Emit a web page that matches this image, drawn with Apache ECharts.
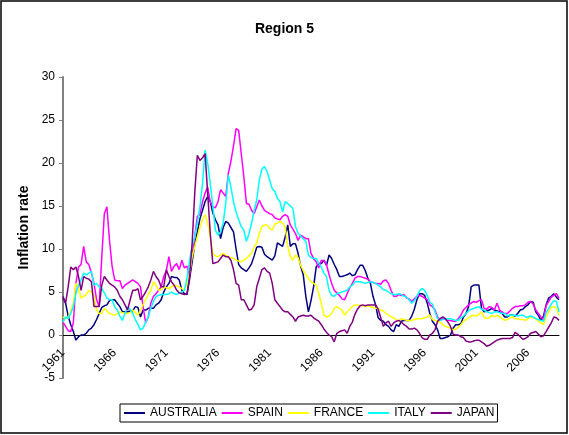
<!DOCTYPE html>
<html>
<head>
<meta charset="utf-8">
<script src="https://cdn.jsdelivr.net/npm/echarts@6/dist/echarts.min.js"></script>
<style>
html,body{margin:0;padding:0;background:#fff;}
#c{width:569px;height:435px;}
</style>
</head>
<body>
<div id="c"></div>
<script>
// Quarterly categories 1961Q1 .. 2009Q1
const startYear = 1961;
const nPoints = 193;
const categories = [];
for (let i = 0; i < nPoints; i++) {
  categories.push((startYear + Math.floor(i / 4)) + ' Q' + (i % 4 + 1));
}
const seriesNames = ['AUSTRALIA', 'SPAIN', 'FRANCE', 'ITALY', 'JAPAN'];
const yTicks = { min: -5, max: 30, interval: 5 };

const australia = [
  4.3, 3.7, 2.2, 1.2,  0.4, -0.6, -0.2, 0.0,  0.0, 0.2, 0.6, 0.8,  1.2, 1.8, 2.5, 3.2,
  3.4, 3.5, 4.0, 4.1,  4.1, 3.7, 3.3, 2.7,  2.7, 2.7, 2.8, 2.8,  3.3, 3.2, 2.1, 2.9,
  2.9, 3.1, 3.1, 3.1,  3.5, 3.7, 4.1, 5.0,  5.6, 6.0, 6.8, 6.7,  6.7, 6.4, 5.2, 4.8,
  4.7, 6.5, 8.5, 10.5,  12.0, 13.5, 14.5, 15.5,  16.1, 15.5, 14.2, 13.4,  12.8, 11.2, 12.5, 13.2,
  13.0, 12.5, 12.0, 10.0,  8.2, 7.8, 7.6, 7.4,  7.8, 8.3, 9.2, 10.2,  10.3, 10.2, 9.4, 9.1,
  8.9, 8.7, 9.2, 10.7,  10.5, 10.3, 11.4, 12.8,  10.3, 10.6, 10.6, 9.5,  8.0, 7.0, 4.5, 2.7,
  4.0, 5.6, 7.9, 8.3,  8.3, 8.7, 8.1, 9.3,  8.9, 8.2, 7.6, 6.8,  6.8, 6.9, 7.0, 7.2,
  6.9, 7.0, 7.6, 8.1,  8.1, 7.5, 6.6, 6.0,  4.5, 3.5, 2.0, 1.7,  1.6, 1.2, 1.0, 0.6,
  0.4, 1.2, 1.0, 1.6,  1.7, 1.7, 1.7, 2.2,  3.0, 4.1, 4.8, 4.8,  4.6, 3.7, 2.5, 1.6,
  1.2, 0.6, -0.4, -0.4,  -0.3, -0.2, 0.0, 0.8,  1.2, 1.2, 1.3, 2.1,  2.5, 3.3, 5.6, 5.8,
  5.8, 5.8, 3.1, 2.7,  2.8, 2.9, 3.1, 2.9,  2.8, 2.7, 2.5, 2.1,  2.1, 2.3, 2.3, 2.2,
  2.5, 2.9, 3.0, 3.3,  3.5, 3.9, 3.8, 2.7,  2.3, 1.7, 2.2, 3.5,  4.3, 4.5, 4.8, 4.4,
  4.1
];
const spain = [
  1.5, 1.0, 0.5, 0.4,  1.4, 6.0, 7.9, 8.2,  10.3, 8.5, 8.2, 7.2,  6.0, 4.1, 3.3, 9.0,
  14.1, 14.9, 11.0, 8.0,  6.4, 6.3, 6.3, 5.4,  5.8, 6.0, 6.2, 6.4,  6.2, 6.0, 5.6, 3.3,
  1.4, 2.1, 3.7, 4.5,  4.8, 5.2, 5.6, 6.8,  7.5, 9.1, 7.4, 8.0,  8.3, 7.6, 8.7, 7.8,
  8.0, 6.8, 9.5, 11.4,  13.8, 14.0, 15.5, 16.5,  17.2, 15.5, 14.9, 14.8,  15.5, 16.9, 16.5, 16.1,
  18.8, 20.2, 22.0, 24.0,  23.8, 21.1, 18.4, 15.3,  15.2, 14.5, 14.1, 14.9,  15.7, 15.0, 14.5, 14.3,
  14.1, 14.0, 13.6, 13.5,  13.4, 13.8, 14.0, 13.8,  12.8, 12.3, 11.8, 11.0,  11.6, 11.4, 11.2, 11.2,
  9.5, 8.9, 8.5, 7.8,  8.7, 8.6, 8.2, 7.0,  6.0, 5.2, 4.9, 4.6,  4.2, 4.1, 4.8, 5.5,
  6.0, 6.6, 6.8, 6.8,  6.7, 6.6, 6.5, 6.2,  6.1, 6.0, 6.0, 5.9,  6.3, 6.4, 6.0, 5.2,
  4.5, 4.5, 4.7, 4.6,  4.7, 4.3, 4.2, 3.9,  4.2, 4.5, 4.6, 4.5,  4.3, 4.1, 3.5, 3.3,
  2.9, 2.1, 1.7, 1.9,  1.8, 1.7, 1.7, 1.6,  1.6, 1.9, 2.3, 2.9,  3.2, 3.5, 3.7, 3.9,
  3.8, 4.0, 4.1, 3.1,  3.0, 3.3, 3.2, 2.9,  3.7, 2.9, 2.7, 2.5,  2.5, 2.8, 3.1, 3.3,
  3.3, 3.4, 3.4, 3.5,  3.8, 3.9, 3.6, 2.9,  2.5, 2.1, 1.8, 3.4,  3.9, 4.4, 4.6, 4.8,
  4.3
];
const france = [
  2.1, 1.9, 2.0, 2.8,  3.7, 6.0, 5.4, 4.3,  4.5, 4.7, 5.2, 5.0,  4.5, 2.9, 2.5, 2.5,
  3.1, 2.8, 2.5, 2.4,  2.3, 2.5, 2.7, 2.6,  2.5, 2.5, 2.6, 2.9,  2.6, 2.3, 2.9, 3.5,
  4.1, 4.7, 5.2, 6.2,  5.8, 5.2, 5.3, 5.6,  5.5, 5.4, 5.6, 5.8,  5.7, 5.6, 5.4, 5.2,
  6.0, 7.2, 9.1, 10.3,  11.4, 12.5, 13.4, 14.0,  13.0, 11.4, 9.5, 9.2,  9.1, 9.3, 9.5, 9.3,
  9.1, 9.0, 8.9, 8.7,  8.6, 8.5, 8.7, 8.9,  9.2, 9.5, 10.2, 10.7,  11.8, 12.6, 12.8, 12.8,
  12.4, 12.2, 12.9, 13.0,  13.2, 13.0, 12.6, 10.3,  9.1, 8.7, 9.3, 9.0,  8.1, 7.5, 7.0, 6.6,
  6.2, 6.0, 5.8, 4.8,  3.7, 2.3, 2.1, 2.2,  2.5, 3.1, 3.3, 3.1,  2.9, 2.3, 2.7, 3.0,
  3.3, 3.5, 3.5, 3.4,  3.4, 3.3, 3.4, 3.3,  3.2, 3.1, 3.1, 2.9,  2.8, 2.5, 2.3, 2.1,
  2.0, 1.8, 1.6, 1.9,  1.8, 1.7, 1.7, 1.7,  1.8, 1.9, 1.9, 1.9,  2.0, 2.1, 2.3, 1.8,
  1.7, 1.6, 1.5, 1.2,  1.0, 0.9, 0.8, 0.6,  0.7, 0.9, 1.2, 1.6,  1.8, 2.0, 2.2, 2.3,
  2.2, 2.4, 2.7, 2.1,  1.9, 2.0, 2.3, 2.1,  2.3, 2.1, 1.9, 1.7,  1.8, 2.0, 2.1, 1.9,
  1.9, 1.8, 1.8, 1.7,  1.9, 2.1, 2.0, 1.9,  1.6, 1.4, 1.2, 2.1,  2.7, 3.2, 3.3, 3.1,
  2.3
];
const italy = [
  1.5, 2.1, 1.9, 2.5,  3.3, 4.8, 5.8, 6.4,  7.2, 7.0, 7.2, 7.4,  5.8, 6.0, 5.6, 5.4,
  4.9, 4.3, 4.1, 4.1,  3.3, 2.9, 2.2, 1.7,  2.5, 3.3, 3.0, 2.5,  1.8, 1.2, 0.6, 0.8,
  1.5, 2.1, 3.1, 3.9,  4.5, 4.6, 4.7, 4.7,  4.7, 4.8, 5.0, 4.8,  4.7, 4.9, 5.0, 5.2,
  6.6, 8.7, 10.4, 11.4,  13.0, 14.9, 17.5, 21.5,  20.0, 17.6, 15.0, 12.2,  11.6, 12.0, 13.0, 15.3,
  18.6, 17.2, 15.5, 14.3,  13.4, 12.6, 12.2, 10.9,  11.8, 13.0, 14.5, 15.7,  18.0, 19.3, 19.6, 19.0,
  18.0, 17.0, 16.7, 15.9,  15.5, 14.3, 15.5, 15.3,  15.0, 14.7, 12.6, 11.8,  11.5, 11.2, 10.9, 9.3,
  9.0, 8.9, 8.9, 8.3,  7.9, 7.2, 6.8, 5.2,  4.6, 4.5, 4.8, 4.9,  5.0, 5.1, 5.2, 5.6,
  5.8, 6.2, 6.2, 6.2,  6.1, 6.0, 6.1, 6.2,  6.1, 6.0, 5.8, 5.6,  5.3, 5.2, 5.0, 4.8,
  4.7, 4.7, 4.8, 4.7,  4.5, 4.4, 4.1, 3.7,  4.0, 4.5, 5.1, 5.4,  5.2, 4.6, 3.8, 3.6,
  2.7, 1.9, 1.7, 1.8,  1.9, 1.9, 1.9, 1.8,  1.7, 1.7, 2.0, 2.2,  2.5, 2.8, 3.0, 3.1,
  3.2, 3.3, 3.0, 2.9,  2.7, 2.6, 2.5, 2.7,  2.7, 2.6, 2.5, 2.5,  2.2, 2.3, 2.3, 2.3,
  2.2, 2.3, 2.3, 2.1,  2.1, 2.2, 2.1, 1.9,  1.8, 1.7, 1.6, 2.6,  3.1, 3.6, 4.0, 3.9,
  2.7
];
const japan = [
  4.5, 3.7, 5.6, 7.9,  7.6, 7.9, 6.8, 5.2,  6.8, 6.6, 6.5, 6.2,  3.3, 3.3, 3.3, 5.8,
  6.8, 6.4, 6.0, 5.8,  5.6, 5.2, 4.5, 4.1,  3.5, 2.9, 4.1, 5.2,  5.2, 5.4, 4.1, 4.5,
  5.0, 5.6, 6.4, 7.4,  6.8, 6.4, 5.6, 5.6,  7.6, 6.8, 6.2, 5.8,  5.2, 4.9, 4.8, 4.7,
  4.8, 6.8, 10.7, 16.5,  20.9, 20.3, 20.6, 21.1,  16.5, 11.8, 8.3, 8.4,  8.5, 8.9, 9.3, 9.1,
  9.1, 8.7, 7.6, 6.0,  5.8, 4.1, 4.1, 3.5,  2.9, 3.0, 3.5, 5.6,  6.6, 7.6, 7.8, 7.4,
  7.2, 6.0, 4.1, 3.7,  3.3, 2.9, 2.7, 2.7,  2.4, 2.1, 1.6, 2.1,  2.2, 2.3, 2.2, 2.2,
  2.3, 2.0, 1.8, 1.6,  1.2, 0.7, 0.3, 0.0,  -0.2, -0.8, 0.2, 0.4,  0.5, 0.6, 0.2, 1.0,
  1.5, 2.4, 3.0, 3.4,  3.5, 3.4, 3.5, 3.5,  3.5, 3.5, 3.0, 2.0,  1.0, 1.4, 1.6, 1.0,
  1.4, 1.6, 1.7, 1.5,  1.2, 1.0, 0.7, 0.7,  0.8, 0.6, 0.2, -0.3,  -0.5, -0.5, 0.0, 0.2,
  0.6, 1.6, 1.9, 2.1,  1.9, 1.5, 1.0, 0.1,  0.0, 0.0, -0.2, -0.3,  -0.7, -0.8, -0.8, -0.7,
  -0.6, -0.6, -0.8, -1.0,  -1.3, -1.2, -1.0, -0.8,  -0.6, -0.5, -0.4, -0.4,  -0.4, -0.4, -0.3, 0.3,
  0.1, -0.2, -0.5, -0.4,  -0.2, 0.2, 0.3, 0.4,  0.1, -0.2, -0.1, 0.4,  0.9, 1.4, 2.1, 2.0,
  1.7
];
const seriesData = [australia, spain, france, italy, japan];
const seriesColors = ['#000080', '#FF00FF', '#FFFF00', '#00FFFF', '#800080'];

const chart = echarts.init(document.getElementById('c'), null, { renderer: 'canvas' });
const font = 'Arial, "Liberation Sans", sans-serif';
const labelStyle = {
  interval: 19,
  rotate: 45,
  margin: 16,
  fontFamily: font,
  fontSize: 12,
  color: '#000',
  formatter: v => v.slice(0, 4)
};
chart.setOption({
  animation: false,
  backgroundColor: '#ffffff',
  title: {
    text: 'Region 5',
    left: 'center',
    top: 17,
    textStyle: { fontFamily: font, fontSize: 14, fontWeight: 'bold', color: '#000' }
  },
  graphic: [{
    type: 'rect',
    shape: { x: 1, y: 1, width: 566, height: 432 },
    style: { fill: 'none', stroke: '#000', lineWidth: 1.5 },
    silent: true,
    z: 100
  }],
  legend: {
    data: seriesNames,
    left: 120,
    top: 404,
    orient: 'horizontal',
    icon: 'rect',
    itemWidth: 21,
    itemHeight: 2,
    itemGap: 5,
    padding: [3, 3, 3, 4],
    borderColor: '#000',
    borderWidth: 1,
    textStyle: { fontFamily: font, fontSize: 12, color: '#000' }
  },
  grid: { left: 63, right: 10, top: 77, bottom: 57, containLabel: false, outerBoundsMode: 'none' },
  xAxis: [{
    type: 'category',
    data: categories,
    boundaryGap: false,
    axisLine: { onZero: true, lineStyle: { color: '#000', width: 1 } },
    axisTick: { show: false },
    axisLabel: { show: false },
    splitLine: { show: false }
  }, {
    type: 'category',
    data: categories,
    boundaryGap: false,
    position: 'bottom',
    offset: -43,
    axisLine: { show: false, onZero: false },
    axisTick: { show: false },
    axisLabel: labelStyle,
    splitLine: { show: false }
  }],
  yAxis: {
    type: 'value',
    min: yTicks.min,
    max: yTicks.max,
    interval: yTicks.interval,
    name: 'Inflation rate',
    nameLocation: 'middle',
    nameGap: 28,
    nameTextStyle: { fontFamily: font, fontSize: 14, fontWeight: 'bold', color: '#000' },
    axisLine: { show: true, onZero: false, lineStyle: { color: '#808080', width: 2 } },
    axisTick: { show: true, length: 4, lineStyle: { color: '#808080' } },
    axisLabel: { fontFamily: font, fontSize: 12, color: '#000', margin: 8 },
    splitLine: { show: false }
  },
  series: seriesNames.map((name, k) => ({
    name: name,
    type: 'line',
    xAxisIndex: 0,
    data: seriesData[k],
    showSymbol: false,
    symbol: 'none',
    lineStyle: { color: seriesColors[k], width: 1.5 },
    itemStyle: { color: seriesColors[k] }
  }))
});
</script>
</body>
</html>
